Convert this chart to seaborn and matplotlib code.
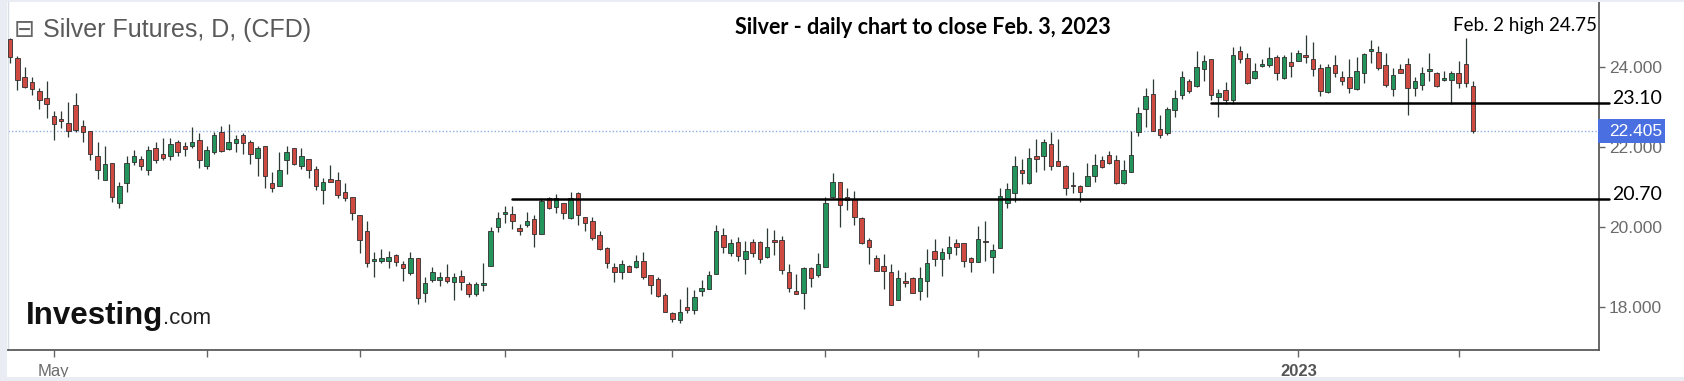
"""Silver futures daily candlestick chart, Apr 2022 to Feb 3, 2023."""

import matplotlib
matplotlib.use("Agg")
import matplotlib.pyplot as plt
import matplotlib.transforms as mtransforms
from matplotlib.patches import Rectangle
import numpy as np
import pandas as pd
import seaborn as sns


START = "2022-04-22"
END = "2023-02-03"
HOLIDAYS = ["2022-05-30", "2022-06-20", "2022-07-04", "2022-09-05"]

OPEN = [
    24.71, 24.23, 23.75, 23.63, 23.41, 23.24, 22.79, 22.72, 22.62, 23.06,
    22.53, 22.41, 21.79, 21.18, 21.60, 20.61, 21.11, 21.62, 21.71, 21.42,
    21.98, 21.82, 21.77, 22.12, 22.02, 22.02, 22.17, 21.52, 21.87, 22.39,
    21.95, 22.10, 22.31, 22.13, 21.74, 22.04, 21.10, 21.02, 21.68, 21.98,
    21.52, 21.70, 21.45, 20.94, 21.21, 21.18, 20.87, 20.76, 20.30, 19.90,
    19.16, 19.16, 19.16, 19.30, 19.07, 18.84, 19.22, 18.34, 18.68, 18.68,
    18.74, 18.63, 18.78, 18.57, 18.33, 18.55, 19.03, 19.99, 20.33, 20.33,
    19.97, 20.05, 20.20, 19.83, 20.72, 20.51, 20.61, 20.22, 20.85, 20.26,
    20.14, 19.80, 19.47, 18.99, 18.88, 19.03, 19.01, 19.16, 18.80, 18.69,
    18.30, 17.84, 17.67, 17.99, 17.92, 18.41, 18.44, 18.83, 19.80, 19.34,
    19.63, 19.19, 19.63, 19.62, 19.26, 19.68, 19.68, 18.88, 18.40, 18.36,
    18.97, 18.80, 19.01, 20.75, 21.14, 20.76, 20.70, 20.22, 19.68, 19.23,
    19.03, 18.88, 18.17, 18.65, 18.72, 18.41, 18.66, 19.40, 19.19, 19.34,
    19.60, 19.61, 19.22, 19.12, 19.66, 19.24, 19.47, 20.60, 20.86, 21.43,
    21.10, 21.78, 21.77, 22.08, 21.66, 21.52, 21.06, 21.02, 21.04, 21.27,
    21.67, 21.81, 21.68, 21.10, 21.39, 22.39, 22.95, 23.33, 22.45, 22.35,
    22.94, 23.31, 23.66, 23.54, 23.95, 24.20, 23.27, 23.44, 23.19, 24.41,
    24.23, 23.73, 24.04, 24.06, 24.27, 23.73, 24.13, 24.17, 24.31, 24.20,
    23.98, 23.38, 24.05, 23.77, 23.75, 23.45, 23.87, 24.40, 24.38, 24.05,
    23.46, 23.96, 24.08, 23.49, 23.56, 23.91, 23.85, 23.69, 23.69, 23.85,
    24.08, 23.54,
]
HIGH = [
    24.75, 24.29, 24.00, 23.77, 23.48, 23.67, 22.92, 22.92, 23.14, 23.37,
    22.68, 22.41, 22.12, 22.02, 21.60, 21.14, 21.77, 21.93, 21.79, 22.03,
    22.12, 22.24, 22.24, 22.17, 22.14, 22.50, 22.35, 22.02, 22.39, 22.53,
    22.58, 22.31, 22.35, 22.18, 22.03, 22.04, 21.37, 21.87, 22.02, 21.98,
    21.98, 21.70, 21.52, 21.22, 21.56, 21.37, 21.10, 20.76, 20.30, 20.14,
    19.37, 19.44, 19.41, 19.33, 19.16, 19.37, 19.22, 18.74, 18.99, 18.87,
    19.07, 18.84, 18.93, 18.63, 18.63, 19.11, 20.01, 20.39, 20.53, 20.53,
    20.08, 20.39, 20.30, 20.72, 20.76, 20.83, 20.61, 20.89, 20.89, 20.26,
    20.26, 19.91, 19.51, 19.09, 19.18, 19.05, 19.30, 19.37, 18.80, 18.74,
    18.34, 17.88, 18.19, 18.51, 18.43, 18.68, 18.89, 20.05, 19.97, 19.69,
    19.76, 19.66, 19.70, 19.65, 19.97, 19.93, 19.78, 19.07, 18.82, 19.01,
    18.99, 19.34, 20.76, 21.35, 21.14, 20.97, 20.91, 20.26, 19.72, 19.30,
    19.33, 19.07, 18.93, 18.87, 18.74, 18.99, 19.44, 19.70, 19.47, 19.78,
    19.70, 19.61, 19.26, 20.03, 20.14, 19.58, 20.99, 21.10, 21.77, 21.70,
    21.98, 22.20, 22.20, 22.39, 22.20, 21.56, 21.37, 21.06, 21.60, 21.82,
    21.77, 21.91, 21.81, 21.68, 22.41, 23.02, 23.48, 23.70, 22.81, 23.02,
    23.44, 23.92, 23.70, 24.42, 24.31, 24.20, 23.45, 23.63, 24.50, 24.54,
    24.35, 24.12, 24.20, 24.50, 24.31, 24.31, 24.38, 24.44, 24.81, 24.65,
    24.09, 24.09, 24.31, 23.92, 24.20, 24.27, 24.36, 24.69, 24.54, 24.36,
    23.98, 24.09, 24.23, 23.75, 24.00, 24.35, 23.88, 23.92, 23.90, 24.15,
    24.75, 23.66,
]
LOW = [
    24.10, 23.44, 23.48, 23.31, 22.95, 22.74, 22.17, 22.48, 22.25, 22.37,
    22.14, 21.68, 21.20, 21.18, 20.64, 20.47, 20.89, 21.56, 21.42, 21.30,
    21.60, 21.68, 21.68, 21.77, 21.77, 21.98, 21.49, 21.46, 21.83, 21.89,
    21.92, 21.87, 21.83, 21.57, 21.27, 20.97, 20.89, 21.02, 21.33, 21.56,
    21.45, 21.22, 20.93, 20.57, 21.12, 20.74, 20.66, 20.18, 19.34, 18.99,
    18.74, 19.09, 18.97, 19.03, 18.66, 18.80, 18.07, 18.13, 18.62, 18.53,
    18.59, 18.18, 18.43, 18.24, 18.28, 18.41, 19.03, 19.87, 20.10, 19.95,
    19.80, 19.99, 19.49, 19.83, 20.45, 20.36, 20.19, 20.19, 20.05, 19.91,
    19.68, 19.43, 18.97, 18.62, 18.69, 18.87, 18.97, 18.69, 18.32, 18.24,
    17.86, 17.63, 17.59, 17.84, 17.82, 18.28, 18.44, 18.83, 19.34, 19.28,
    19.16, 18.82, 19.26, 19.11, 19.22, 19.30, 18.82, 18.37, 18.32, 17.94,
    18.51, 18.76, 19.01, 20.72, 20.01, 20.43, 20.05, 19.58, 19.07, 18.91,
    18.44, 18.05, 18.17, 18.51, 18.36, 18.17, 18.26, 19.03, 18.78, 19.20,
    19.30, 18.99, 18.88, 19.12, 19.14, 18.84, 19.47, 20.47, 20.64, 21.08,
    21.08, 21.39, 21.43, 21.43, 21.52, 20.80, 20.86, 20.62, 21.02, 21.12,
    21.47, 21.58, 21.08, 21.08, 21.39, 22.28, 22.52, 22.41, 22.23, 22.31,
    22.77, 23.20, 23.37, 23.52, 23.65, 23.19, 22.77, 23.09, 23.09, 24.10,
    23.59, 23.70, 24.02, 24.02, 23.69, 23.70, 23.77, 24.15, 24.12, 23.79,
    23.29, 23.37, 23.75, 23.56, 23.37, 23.44, 23.60, 24.12, 23.94, 23.52,
    23.29, 23.85, 22.81, 23.29, 23.44, 23.67, 23.52, 23.66, 23.08, 23.49,
    23.52, 22.35,
]
CLOSE = [
    24.25, 23.69, 23.52, 23.45, 23.19, 23.08, 22.58, 22.67, 22.41, 22.43,
    22.37, 21.82, 21.43, 21.58, 20.76, 21.03, 21.60, 21.79, 21.53, 21.93,
    21.68, 21.72, 22.08, 21.88, 21.96, 22.13, 21.68, 21.93, 22.31, 21.91,
    22.12, 22.20, 22.10, 21.82, 21.98, 21.27, 20.97, 21.43, 21.89, 21.57,
    21.78, 21.42, 21.04, 21.14, 21.14, 20.80, 20.74, 20.36, 19.68, 19.11,
    19.19, 19.23, 19.26, 19.13, 18.97, 19.22, 18.22, 18.61, 18.87, 18.76,
    18.66, 18.74, 18.63, 18.33, 18.58, 18.61, 19.90, 20.24, 20.39, 20.14,
    19.91, 20.16, 19.83, 20.65, 20.47, 20.72, 20.36, 20.72, 20.30, 20.10,
    19.72, 19.44, 19.09, 18.88, 19.07, 18.88, 19.14, 18.74, 18.55, 18.27,
    17.86, 17.69, 17.88, 17.92, 18.26, 18.47, 18.80, 19.89, 19.49, 19.59,
    19.28, 19.41, 19.36, 19.19, 19.51, 19.62, 18.93, 18.47, 18.32, 18.97,
    18.72, 19.07, 20.61, 21.14, 20.56, 20.68, 20.25, 19.61, 19.49, 18.91,
    18.91, 18.05, 18.72, 18.59, 18.36, 18.72, 19.09, 19.19, 19.37, 19.49,
    19.49, 19.16, 19.12, 19.70, 19.62, 19.43, 20.79, 20.95, 21.52, 21.35,
    21.74, 21.70, 22.12, 21.52, 21.52, 20.97, 21.02, 20.89, 21.27, 21.56,
    21.50, 21.60, 21.10, 21.43, 21.81, 22.87, 23.29, 22.41, 22.31, 22.95,
    23.24, 23.75, 23.41, 24.00, 24.16, 23.31, 23.37, 23.19, 24.31, 24.21,
    23.60, 23.92, 24.08, 24.23, 23.85, 24.27, 24.04, 24.36, 24.25, 23.95,
    23.41, 24.02, 23.87, 23.65, 23.49, 23.92, 24.33, 24.46, 23.98, 23.56,
    23.81, 23.87, 23.49, 23.67, 23.85, 23.96, 23.54, 23.73, 23.85, 23.62,
    23.62, 22.405,
]

LAST_PRICE = 22.405
LEVELS = [20.70, 23.10]
LEVEL_STARTS = ["2022-08-02", "2022-12-15"]
Y_TICKS = [18, 20, 22, 24]

UP_COLOR = "#23955c"
DOWN_COLOR = "#cf4b41"
EDGE = "#2e2e2e"
W, H = 1684, 381


def build_frame() -> pd.DataFrame:
    dates = pd.bdate_range(START, END)
    dates = dates[~dates.isin(pd.to_datetime(HOLIDAYS))]
    df = pd.DataFrame(
        {"date": dates, "open": OPEN, "high": HIGH, "low": LOW, "close": CLOSE}
    )
    df["pos"] = np.arange(len(df))
    df["up"] = df["close"] >= df["open"]
    return df


def main() -> None:
    df = build_frame()

    sns.set_theme(style="white")
    plt.rcParams["font.family"] = ["Liberation Sans", "DejaVu Sans"]

    fig = plt.figure(figsize=(W / 100, H / 100), dpi=100, facecolor="white")
    ax = fig.add_axes([8 / W, 31 / H, (1599 - 8) / W, (379 - 31) / H])
    ax.set_facecolor("white")

    # wicks then bodies
    ax.vlines(df["pos"], df["low"], df["high"], color="#2d3a33", lw=0.9, zorder=2)
    body_low = df[["open", "close"]].min(axis=1)
    body_h = (df["close"] - df["open"]).abs().clip(lower=0.035)
    colors = np.where(df["up"], UP_COLOR, DOWN_COLOR)
    ax.bar(df["pos"], body_h, bottom=body_low, width=0.62, color=colors,
           edgecolor=EDGE, linewidth=0.6, zorder=3)

    ax.set_xlim(-0.3, 218.3)
    ax.set_ylim(16.92, 25.64)

    # last price dotted line
    ax.axhline(LAST_PRICE, color="#8eaee6", lw=1.0, ls=(0, (1, 1.5)), zorder=1)

    blend = mtransforms.blended_transform_factory(ax.transAxes, ax.transData)
    x_span = ax.get_xlim()[1] - ax.get_xlim()[0]
    for level, start in zip(LEVELS, LEVEL_STARTS):
        pos = df.loc[df["date"] >= pd.Timestamp(start), "pos"].iloc[0]
        x0 = (pos - ax.get_xlim()[0]) / x_span
        ax.plot([x0, 1.006], [level, level], color="black", lw=1.8,
                transform=blend, clip_on=False, zorder=4)
        ax.annotate(f"{level:.2f}", xy=(1.0085, level), xycoords=blend,
                    xytext=(0, 5), textcoords="offset pixels",
                    ha="left", va="center", fontsize=14, color="black",
                    family=["Lato", "DejaVu Sans"])

    # last price tag
    box_h = 24 / (ax.bbox.height / (ax.get_ylim()[1] - ax.get_ylim()[0]))
    ax.add_patch(Rectangle((0.9995, LAST_PRICE - box_h / 2), 0.042, box_h,
                           transform=blend, facecolor="#4a6fe0",
                           edgecolor="none", clip_on=False, zorder=5))
    ax.text(1.0066, LAST_PRICE, f"{LAST_PRICE:.3f}", transform=blend,
            ha="left", va="center", color="white", fontsize=12.5, zorder=6)

    # axes styling
    ax.yaxis.tick_right()
    ax.set_yticks(Y_TICKS)
    ax.set_yticklabels([f"{v:.3f}" for v in Y_TICKS])
    ax.tick_params(axis="y", right=True, length=4, width=1, color="#666666",
                   pad=3, labelsize=12.5, labelcolor="#6b6b6b")

    month_first = df.groupby(df["date"].dt.to_period("M"))["pos"].min()
    month_first = month_first[month_first > 0]
    labels = []
    for period in month_first.index:
        if period.month == 1:
            labels.append(str(period.year))
        elif period.month == 5:
            labels.append("May")
        else:
            labels.append("")
    ax.set_xticks(month_first.values)
    ax.set_xticklabels(labels)
    ax.tick_params(axis="x", bottom=True, length=5, width=1, color="#666666",
                   pad=5, labelsize=12, labelcolor="#6b6b6b")
    for lab in ax.get_xticklabels():
        if lab.get_text() == "2023":
            lab.set_fontweight("bold")
            lab.set_color("#555555")

    ax.spines["top"].set_visible(False)
    ax.spines["left"].set_color("#d8dde6")
    ax.spines["left"].set_linewidth(1.0)
    for side in ["right", "bottom"]:
        ax.spines[side].set_color("#5a5a5a")
        ax.spines[side].set_linewidth(1.3)
    ax.grid(False)

    # frame strips
    fig.patches.append(Rectangle((0, 0), 7 / W, 1, transform=fig.transFigure,
                                 facecolor="#e9edf3", edgecolor="none", zorder=0))
    fig.patches.append(Rectangle((0, 0), 1, 4 / H, transform=fig.transFigure,
                                 facecolor="#e9edf3", edgecolor="none", zorder=0))
    fig.patches.append(Rectangle((0, 1 - 2 / H), 1, 2 / H, transform=fig.transFigure,
                                 facecolor="#e9edf3", edgecolor="none", zorder=0))

    # header texts
    fig.text(14 / W, 1 - 30 / H, "\u229f", fontsize=18, color="#666666",
             va="center", ha="left", family="DejaVu Sans")
    fig.text(43 / W, 1 - 30 / H, "Silver Futures, D, (CFD)", fontsize=18,
             color="#5a5a5a", va="center", ha="left")
    fig.text(923 / W, 1 - 28 / H, "Silver - daily chart to close Feb. 3, 2023",
             fontsize=15.5, weight="bold", color="black", ha="center", va="center",
             family=["Lato", "DejaVu Sans"])
    fig.text(1453 / W, 1 - 25 / H, "Feb. 2 high 24.75", fontsize=13.5,
             color="black", ha="left", va="center", family=["Lato", "DejaVu Sans"])

    # watermark
    logo = fig.text(26 / W, 1 - 324 / H, "Investing", fontsize=22.5, weight="bold",
                    color="#111111", ha="left", va="baseline")
    renderer = fig.canvas.get_renderer()
    logo_end = logo.get_window_extent(renderer).x1
    fig.text(logo_end / W, 1 - 324 / H, ".com", fontsize=16, color="#222222",
             ha="left", va="baseline")

    fig.savefig("out.png", dpi=100, facecolor="white")
    plt.close(fig)


if __name__ == "__main__":
    main()
